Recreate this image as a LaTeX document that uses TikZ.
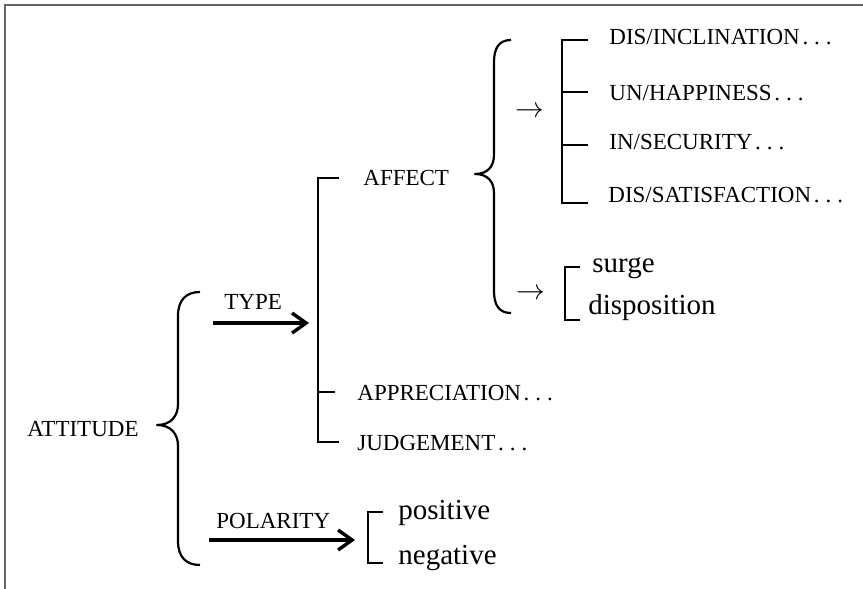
\documentclass[tikz,border=0pt]{standalone}
\usepackage{fontspec}
\setmainfont{Liberation Serif}
\usetikzlibrary{arrows.meta}
\newcommand{\etcdots}{\kern.12em.\kern.26em.\kern.26em.}

\begin{document}
\begin{tikzpicture}[x=0.5pt, y=-0.5pt,
  frame/.style={draw=black!60, line width=1pt},
  caps/.style={anchor=base west, inner sep=0pt, font=\fontsize{11.5}{13}\selectfont},
  word/.style={anchor=base west, inner sep=0pt, font=\fontsize{14.5}{16}\selectfont},
  thinarrow/.style={anchor=base, inner sep=0pt, font=\fontsize{13.5}{15}\selectfont},
  brace/.style={line width=1.1pt, line join=round},
  bracket/.style={line width=1.2pt},
  arrow/.style={line width=1.7pt, -{Straight Barb[length=7pt,width=10pt]}},
]
  \useasboundingbox (0,0) rectangle (863,589);
  \draw[frame] (5,589) -- (5,5) -- (863,5);

  \node[caps] (attitude) at (27,436) {ATTITUDE};
  \node[caps] (type) at (224,309) {TYPE};
  \node[caps] (polarity) at (216,528) {POLARITY};
  \node[caps] (affect) at (363,185) {AFFECT};
  \node[caps] (appreciation) at (357,400) {APPRECIATION\etcdots};
  \node[caps] (judgement) at (357,450) {JUDGEMENT\etcdots};
  \node[caps] (inclination) at (609,44) {DIS/INCLINATION\etcdots};
  \node[caps] (happiness) at (609,100) {UN/HAPPINESS\etcdots};
  \node[caps] (security) at (609,149) {IN/SECURITY\etcdots};
  \node[caps] (satisfaction) at (608,202) {DIS/SATISFACTION\etcdots};
  \node[word] (surge) at (592,272) {surge};
  \node[word] (disposition) at (588,314) {disposition};
  \node[word] (positive) at (398,519) {positive};
  \node[word] (negative) at (398,564) {negative};
  \node[thinarrow] (toList) at (530,117) {$\rightarrow$};
  \node[thinarrow] (toMode) at (531,299) {$\rightarrow$};

  \draw[brace] (200,292) .. controls (186,292) and (178,300) .. (178,316) -- (178,404)
    .. controls (178,416) and (171,425) .. (157,425) .. controls (171,425) and (178,434) .. (178,446)
    -- (178,541) .. controls (178,557) and (186,565) .. (200,565);
  \draw[brace] (511,40) .. controls (499,40) and (494,48) .. (494,62) -- (494,155)
    .. controls (494,166) and (488,174) .. (475,174) .. controls (488,174) and (494,182) .. (494,193)
    -- (494,291) .. controls (494,305) and (499,313) .. (511,313);

  \coordinate (typeOut) at (213,323);
  \coordinate (typeIn) at (309,323);
  \coordinate (polOut) at (209,540);
  \coordinate (polIn) at (355,540);
  \draw[arrow] (typeOut) -- (typeIn);
  \draw[arrow] (polOut) -- (polIn);

  \coordinate (typeTop) at (318,178);
  \coordinate (typeMid) at (318,392);
  \coordinate (typeBot) at (318,442);
  \draw[bracket] (typeTop) ++(21,0) -- (typeTop) -- (typeBot) -- ++(21,0);
  \draw[bracket] (typeMid) -- ++(17,0);

  \coordinate (listTop) at (562,40);
  \coordinate (listA) at (562,92);
  \coordinate (listB) at (562,145);
  \coordinate (listBot) at (562,203);
  \draw[bracket] (listTop) ++(26,0) -- (listTop) -- (listBot) -- ++(26,0);
  \draw[bracket] (listA) -- ++(26,0);
  \draw[bracket] (listB) -- ++(26,0);

  \coordinate (modeTop) at (565,267);
  \coordinate (modeBot) at (565,320);
  \draw[bracket] (modeTop) ++(15,0) -- (modeTop) -- (modeBot) -- ++(15,0);

  \coordinate (polTop) at (368,512);
  \coordinate (polBot) at (368,563);
  \draw[bracket] (polTop) ++(15,0) -- (polTop) -- (polBot) -- ++(15,0);
\end{tikzpicture}
\end{document}
